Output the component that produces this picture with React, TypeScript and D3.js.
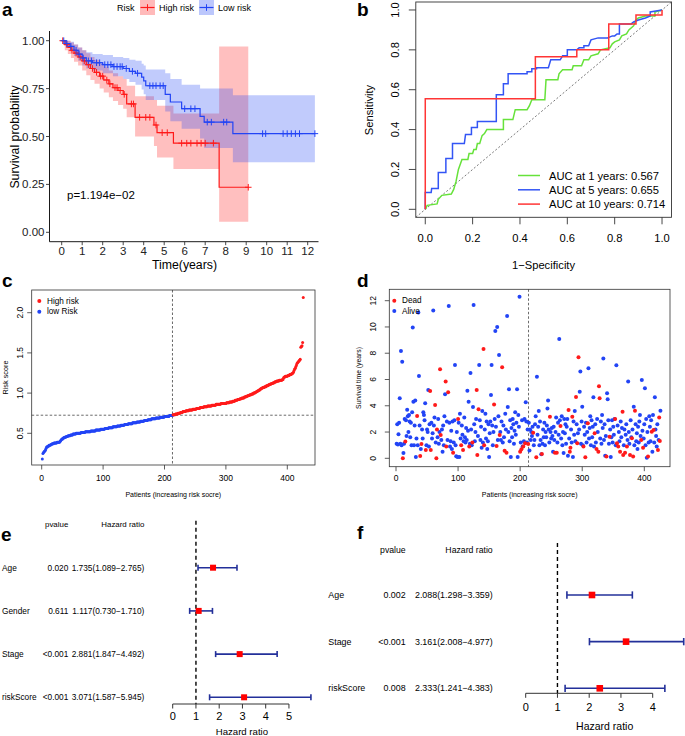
import React from "react";
import * as d3 from "d3";

const FONT = "'Liberation Sans', Arial, Helvetica, sans-serif";

// ---------------- Panel a: Kaplan-Meier ----------------
const kmTicksX = [0, 1, 2, 3, 4, 5, 6, 7, 8, 9, 10, 11, 12];
const kmTicksY = [0, 0.25, 0.5, 0.75, 1];
const kmTickLabelsY = ["0.00", "0.25", "0.50", "0.75", "1.00"];
// [time, survival, lower CI, upper CI]
const kmHigh: number[][] = [
  [0, 1, 1, 1], [0.15, 0.98, 0.95, 1.0], [0.3, 0.965, 0.93, 1.0], [0.45, 0.95, 0.91, 0.99],
  [0.6, 0.935, 0.89, 0.98], [0.8, 0.915, 0.87, 0.965], [1.0, 0.895, 0.845, 0.95],
  [1.2, 0.875, 0.82, 0.935], [1.4, 0.855, 0.795, 0.915], [1.6, 0.835, 0.775, 0.9],
  [1.85, 0.815, 0.75, 0.88], [2.05, 0.795, 0.73, 0.865], [2.3, 0.775, 0.705, 0.845],
  [2.5, 0.755, 0.685, 0.83], [2.75, 0.74, 0.665, 0.815], [3.0, 0.72, 0.645, 0.8],
  [3.17, 0.67, 0.6, 0.765], [3.58, 0.6, 0.5, 0.71], [4.5, 0.56, 0.45, 0.69],
  [4.65, 0.52, 0.39, 0.66], [5.45, 0.465, 0.33, 0.62], [7.68, 0.235, 0.055, 0.97],
];
const kmHighEnd = 9.1;
const kmLow: number[][] = [
  [0, 1, 1, 1], [0.2, 0.985, 0.965, 1], [0.4, 0.97, 0.945, 0.995], [0.6, 0.95, 0.92, 0.98],
  [0.8, 0.93, 0.895, 0.965], [1.0, 0.91, 0.87, 0.95], [1.2, 0.895, 0.855, 0.94],
  [1.5, 0.885, 0.845, 0.93], [2.0, 0.875, 0.83, 0.925], [2.5, 0.865, 0.815, 0.915],
  [3.0, 0.855, 0.8, 0.91], [3.3, 0.84, 0.785, 0.9], [3.6, 0.83, 0.77, 0.895],
  [3.9, 0.81, 0.745, 0.88], [4.0, 0.79, 0.72, 0.87], [4.1, 0.765, 0.69, 0.85],
  [5.05, 0.72, 0.63, 0.83], [5.3, 0.68, 0.58, 0.8], [5.85, 0.645, 0.54, 0.77],
  [6.75, 0.605, 0.49, 0.75], [6.95, 0.575, 0.44, 0.75], [8.35, 0.515, 0.365, 0.715],
];
const kmLowEnd = 12.35;
const censorHigh = [0.05, 0.25, 0.5, 0.7, 0.9, 1.1, 1.3, 1.5, 1.7, 1.9, 2.0, 2.2, 2.35, 2.6, 2.7, 2.85, 3.05, 3.4, 3.5, 3.8, 4.1, 4.3, 4.6, 4.9, 5.15, 5.85, 6.1, 6.3, 6.6, 6.8, 7.0, 7.4, 9.1];
const censorLow = [0.1, 0.25, 0.45, 0.7, 0.85, 1.05, 1.3, 1.45, 1.7, 1.85, 2.1, 2.25, 2.4, 2.55, 2.7, 2.85, 2.95, 3.15, 3.45, 3.7, 4.3, 4.45, 4.6, 4.8, 4.95, 6.0, 6.3, 6.5, 7.1, 7.3, 7.9, 8.05, 9.8, 9.95, 10.8, 11.0, 11.2, 11.4, 11.6, 12.35];
const pValueText = "p=1.194e\u221202";

// ---------------- Panel b: ROC ----------------
const rocTicks = [0, 0.2, 0.4, 0.6, 0.8, 1.0];
const roc1: number[][] = [
  [0, 0], [0.008, 0.02], [0.05, 0.027], [0.055, 0.05], [0.07, 0.07], [0.11, 0.077], [0.12, 0.1],
  [0.13, 0.14], [0.14, 0.2], [0.155, 0.25], [0.18, 0.25], [0.185, 0.28], [0.2, 0.28], [0.205, 0.3],
  [0.215, 0.3], [0.22, 0.33], [0.23, 0.33], [0.24, 0.37], [0.25, 0.38], [0.26, 0.4], [0.33, 0.4],
  [0.33, 0.45], [0.37, 0.45], [0.38, 0.5], [0.43, 0.5], [0.44, 0.52], [0.45, 0.55], [0.505, 0.55],
  [0.51, 0.65], [0.56, 0.65], [0.565, 0.68], [0.58, 0.7], [0.62, 0.7], [0.625, 0.72], [0.66, 0.72],
  [0.67, 0.75], [0.69, 0.75], [0.7, 0.77], [0.73, 0.78], [0.74, 0.8], [0.78, 0.81], [0.79, 0.83],
  [0.8, 0.84], [0.82, 0.85], [0.83, 0.87], [0.85, 0.88], [0.86, 0.9], [0.88, 0.92], [0.89, 0.95],
  [0.9, 0.96], [0.93, 0.97], [0.97, 0.97], [0.97, 0.99], [1, 1],
];
const roc5: number[][] = [
  [0, 0], [0, 0.085], [0.025, 0.085], [0.027, 0.105], [0.055, 0.105], [0.055, 0.185], [0.087, 0.185],
  [0.087, 0.255], [0.115, 0.255], [0.115, 0.33], [0.165, 0.33], [0.17, 0.375], [0.195, 0.375],
  [0.195, 0.41], [0.22, 0.41], [0.22, 0.44], [0.3, 0.44], [0.3, 0.575], [0.33, 0.575], [0.33, 0.63],
  [0.35, 0.63], [0.35, 0.68], [0.43, 0.68], [0.43, 0.69], [0.45, 0.69], [0.45, 0.705], [0.47, 0.705],
  [0.47, 0.71], [0.52, 0.71], [0.53, 0.75], [0.57, 0.75], [0.58, 0.77], [0.6, 0.77], [0.6, 0.8],
  [0.64, 0.8], [0.65, 0.81], [0.67, 0.81], [0.67, 0.82], [0.69, 0.82], [0.7, 0.85], [0.73, 0.86],
  [0.77, 0.86], [0.79, 0.87], [0.8, 0.87], [0.81, 0.88], [0.82, 0.88], [0.82, 0.93], [0.87, 0.93],
  [0.88, 0.94], [0.9, 0.95], [0.93, 0.96], [0.95, 0.97], [0.95, 0.99], [1, 1],
];
const roc10: number[][] = [
  [0, 0], [0, 0.555], [0.465, 0.555], [0.465, 0.765], [0.64, 0.765], [0.64, 0.8], [0.775, 0.8],
  [0.775, 0.93], [0.89, 0.93], [0.89, 0.975], [1, 0.975], [1, 1],
];
const rocLabels = ["AUC at 1 years: 0.567", "AUC at 5 years: 0.655", "AUC at 10 years: 0.714"];
const rocColors = ["#66E23A", "#3355F5", "#FF3535"];

// ---------------- Panel c: risk score ----------------
const riskScores = [
  0.18, 0.25, 0.26, 0.27, 0.28, 0.29, 0.31, 0.33, 0.33, 0.34,
  0.34, 0.35, 0.35, 0.35, 0.36, 0.36, 0.37, 0.37, 0.37, 0.38,
  0.38, 0.38, 0.38, 0.38, 0.39, 0.39, 0.39, 0.39, 0.39, 0.40,
  0.41, 0.42, 0.43, 0.43, 0.44, 0.44, 0.45, 0.45, 0.45, 0.46,
  0.46, 0.46, 0.47, 0.47, 0.47, 0.47, 0.48, 0.48, 0.48, 0.48,
  0.49, 0.49, 0.49, 0.49, 0.49, 0.50, 0.50, 0.50, 0.50, 0.50,
  0.50, 0.50, 0.50, 0.51, 0.51, 0.51, 0.51, 0.51, 0.51, 0.51,
  0.52, 0.52, 0.52, 0.52, 0.52, 0.52, 0.52, 0.52, 0.52, 0.53,
  0.53, 0.53, 0.53, 0.53, 0.53, 0.53, 0.53, 0.54, 0.54, 0.54,
  0.54, 0.54, 0.54, 0.54, 0.54, 0.55, 0.55, 0.55, 0.55, 0.55,
  0.55, 0.55, 0.56, 0.56, 0.56, 0.56, 0.56, 0.56, 0.57, 0.57,
  0.57, 0.57, 0.57, 0.57, 0.57, 0.58, 0.58, 0.58, 0.58, 0.58,
  0.58, 0.58, 0.59, 0.59, 0.59, 0.59, 0.59, 0.59, 0.60, 0.60,
  0.60, 0.60, 0.60, 0.60, 0.61, 0.61, 0.61, 0.61, 0.61, 0.61,
  0.62, 0.62, 0.62, 0.62, 0.62, 0.62, 0.62, 0.63, 0.63, 0.63,
  0.63, 0.63, 0.63, 0.63, 0.64, 0.64, 0.64, 0.64, 0.64, 0.64,
  0.65, 0.65, 0.65, 0.65, 0.65, 0.65, 0.66, 0.66, 0.66, 0.66,
  0.66, 0.66, 0.67, 0.67, 0.67, 0.67, 0.67, 0.67, 0.68, 0.68,
  0.68, 0.68, 0.68, 0.68, 0.68, 0.69, 0.69, 0.69, 0.69, 0.69,
  0.69, 0.69, 0.70, 0.70, 0.70, 0.70, 0.70, 0.70, 0.70, 0.71,
  0.71, 0.71, 0.71, 0.71, 0.71, 0.71, 0.71, 0.72, 0.72, 0.72, 0.72, 0.72, 0.72,
  0.73, 0.73, 0.73, 0.73, 0.74, 0.74, 0.74, 0.74, 0.75, 0.75,
  0.75, 0.75, 0.76, 0.76, 0.76, 0.76, 0.77, 0.77, 0.77, 0.77,
  0.77, 0.78, 0.78, 0.78, 0.78, 0.78, 0.79, 0.79, 0.79, 0.79,
  0.79, 0.79, 0.80, 0.80, 0.80, 0.80, 0.80, 0.80, 0.81, 0.81,
  0.81, 0.81, 0.81, 0.81, 0.82, 0.82, 0.82, 0.82, 0.82, 0.82,
  0.83, 0.83, 0.83, 0.83, 0.83, 0.83, 0.84, 0.84, 0.84, 0.84,
  0.84, 0.84, 0.84, 0.85, 0.85, 0.85, 0.85, 0.85, 0.85, 0.85,
  0.86, 0.86, 0.86, 0.86, 0.86, 0.86, 0.86, 0.86, 0.87, 0.87,
  0.87, 0.87, 0.87, 0.87, 0.87, 0.87, 0.87,
  0.88, 0.88, 0.88, 0.88, 0.88, 0.89, 0.89, 0.89, 0.89, 0.89,
  0.90, 0.90, 0.90, 0.90, 0.91, 0.91, 0.91, 0.91, 0.92, 0.92,
  0.92, 0.92, 0.93, 0.93, 0.93, 0.94, 0.94, 0.94, 0.94, 0.95,
  0.95, 0.95, 0.96, 0.96, 0.96, 0.97, 0.97, 0.97, 0.98, 0.98,
  0.98, 0.99, 0.99, 0.99, 1.00, 1.00, 1.00, 1.01, 1.01, 1.02,
  1.02, 1.03, 1.03, 1.04, 1.04, 1.05, 1.05, 1.06, 1.06, 1.07,
  1.07, 1.07, 1.08, 1.08, 1.08, 1.09, 1.09, 1.09, 1.10, 1.10,
  1.11, 1.11, 1.11, 1.12, 1.12, 1.12, 1.13, 1.13, 1.13, 1.14,
  1.14, 1.14, 1.15, 1.15, 1.15, 1.15, 1.16, 1.16, 1.16, 1.16,
  1.16, 1.17, 1.17, 1.19, 1.20, 1.20, 1.21, 1.21, 1.21, 1.21,
  1.22, 1.22, 1.22, 1.23, 1.23, 1.23, 1.24, 1.24, 1.25, 1.26,
  1.28, 1.30, 1.31, 1.33, 1.35, 1.37, 1.38, 1.39, 1.40, 1.41,
  1.42, 1.57, 1.58, 1.59, 1.63, 2.19,
];
const riskCutPatient = 213;
const riskCutScore = 0.725;
const patientTicks = [0, 100, 200, 300, 400];
const riskTicks = [0.5, 1.0, 1.5, 2.0];
const riskTickLabels = ["0.5", "1.0", "1.5", "2.0"];

// ---------------- Panel d: survival status ----------------
const survYears = [
  1.1, 2.6, 1.05, 1.83, 2.7, 4.57, 1.1, 8.17, 1.0, 7.36,
  0.0, 0.4, 1.1, 3.0, 1.27, 2.9, 1.7, 3.7, 3.2, 2.0,
  3.3, 2.8, 1.6, 2.7, 1.0, 3.5, 9.95, 4.3, 1.0, 2.5,
  4.4, 0.1, 1.5, 3.22, 1.0, 11.1, 6.27, 2.5, 0.18, 0.7,
  1.09, 2.2, 1.5, 3.5, 3.3, 2.9, 4.2, 0.63, 1.0, 2.2,
  2.0, 5.2, 0.9, 2.6, 5.13, 0.63, 2.7, 1.5, 1.9, 11.25,
  2.5, 3.1, 4.06, 1.2, 0.0, 2.2, 1.6, 3.0, 1.1, 2.0,
  6.78, 1.78, 1.4, 2.2, 0.5, 2.5, 1.0, 3.2, 4.87, 5.84,
  0.9, 2.8, 1.4, 5.03, 11.6, 2.7, 0.9, 1.3, 2.1, 0.7,
  2.8, 0.43, 1.2, 2.9, 7.1, 1.0, 0.15, 2.0, 0.1, 3.0,
  2.7, 0.1, 3.4, 1.5, 1.0, 2.5, 1.8, 0.63, 1.3, 3.1,
  1.6, 1.2, 2.3, 1.4, 5.15, 2.1, 4.3, 0.9, 1.1, 6.5,
  2.2, 1.0, 1.2, 3.9, 11.68, 2.6, 1.3, 2.0, 3.0, 5.2,
  0.25, 1.7, 3.73, 7.1, 2.9, 1.4, 2.4, 0.8, 3.6, 1.2,
  8.33, 1.0, 2.2, 3.4, 1.5, 2.8, 0.7, 1.3, 2.6, 0.1,
  1.9, 2.8, 4.82, 7.1, 2.5, 1.0, 2.0, 4.1, 3.0, 9.7,
  2.4, 0.94, 10.0, 1.4, 3.2, 7.87, 1.78, 2.0, 1.4, 2.8,
  6.93, 1.2, 2.5, 1.6, 0.58, 3.4, 2.2, 0.43, 10.84, 3.9,
  2.0, 5.25, 1.3, 2.9, 0.1, 2.3, 1.6, 3.0, 2.6, 1.1,
  2.1, 3.5, 1.8, 2.7, 5.25, 0.1, 3.3, 2.4, 12.3, 0.5,
  1.2, 0.69, 2.9, 0.9, 0.89, 1.3, 3.0, 1.14, 4.26, 2.8,
  1.2, 2.2, 1.09, 2.7, 0.6, 2.2, 1.4, 2.0, 1.7, 2.4,
  1.95, 1.0, 1.4, 2.6, 3.2, 0.08, 6.2, 1.8, 2.4, 3.6,
  1.0, 2.8, 1.4, 0.3, 0.33, 1.1, 2.2, 1.6, 2.7, 1.0,
  2.0, 1.6, 2.5, 3.8, 4.4, 2.2, 1.2, 3.17, 2.0, 1.5,
  2.3, 1.7, 0.5, 2.4, 1.4, 0.43, 2.0, 3.1, 0.43, 1.2,
  2.7, 1.8, 9.08, 2.9, 2.46, 1.5, 3.2, 1.0, 2.0, 0.4,
  3.0, 1.9, 2.6, 1.1, 2.4, 3.0, 0.2, 3.68, 1.5, 0.5,
  0.81, 2.2, 1.2, 3.17, 0.1, 2.8, 1.8, 3.6, 1.3, 4.67,
  2.6, 1.14, 1.9, 7.7, 2.2, 5.07, 6.6, 1.1, 2.8, 3.93,
  1.0, 0.89, 2.4, 1.8, 0.08, 2.7, 1.2, 2.0, 2.67, 6.85,
  1.5, 2.3, 3.2, 1.0, 2.9, 1.6, 2.4, 4.64, 0.9, 1.9,
  2.6, 1.2, 0.71, 3.0, 2.0, 0.5, 5.48, 4.57, 1.5, 2.8,
  1.1, 3.3, 2.3, 7.6, 1.4, 2.6, 0.2, 1.7, 0.13, 4.95,
  4.5, 2.9, 1.1, 1.65, 2.2, 0.1, 1.6, 2.9, 1.2, 2.4,
  1.8, 3.0, 3.0, 1.0, 7.08, 1.14, 2.5, 0.89, 2.0, 1.3,
  0.5, 2.8, 1.6, 2.3, 3.55, 0.25, 1.0, 2.2, 0.43, 1.8,
  2.6, 0.89, 1.4, 5.84, 2.0, 1.1, 0.25, 2.9, 1.6, 1.52,
  2.2, 0.13, 3.93, 1.0, 3.63, 2.6, 1.3, 1.9, 0.7, 2.4,
  1.2, 2.8, 3.3, 1.7, 1.4, 5.96, 2.1, 0.81, 1.5, 2.6,
  5.33, 1.0, 3.0, 0.05, 2.0, 0.13, 1.2, 3.2, 2.4, 1.3,
  2.9, 2.03, 0.5, 3.3, 2.16, 1.2, 4.64, 2.2, 1.7, 0.9,
  2.6, 0.63, 1.4, 3.1, 1.32, 3.63,
];
const deadPatients = [11, 15, 34, 39, 41, 48, 55, 56, 63, 65, 66, 71, 72, 80, 81, 84, 92, 100, 105, 108, 118, 123, 130, 131, 133, 141, 142, 158, 162, 167, 171, 175, 178, 200, 202, 205, 208, 213, 221, 226, 235, 248, 256, 259, 265, 278, 280, 281, 284, 290, 292, 294, 302, 305, 309, 320, 323, 326, 327, 328, 339, 344, 353, 356, 358, 361, 365, 366, 369, 372, 377, 380, 382, 385, 395, 398, 406, 412, 415, 422, 424, 425];
const yearTicks = [0, 2, 4, 6, 8, 10, 12];

// ---------------- Panels e, f: forest plots ----------------
const eNames = ["Age", "Gender", "Stage", "riskScore"];
const ePvals = ["0.020", "0.611", "<0.001", "<0.001"];
const eHR = [1.735, 1.117, 2.881, 3.071];
const eLow = [1.089, 0.73, 1.847, 1.587];
const eHigh = [2.765, 1.71, 4.492, 5.945];
const eTicks = [0, 1, 2, 3, 4, 5];

const fNames = ["Age", "Stage", "riskScore"];
const fPvals = ["0.002", "<0.001", "0.008"];
const fHR = [2.088, 3.161, 2.333];
const fLow = [1.298, 2.008, 1.241];
const fHigh = [3.359, 4.977, 4.383];
const fTicks = [0, 1, 2, 3, 4];

const RED = "#FF1A1A";
const BLUE = "#2244F5";
const NAVY = "#23309A";

function PanelLetter({ x, y, t }: { x: number; y: number; t: string }) {
  return (
    <text x={x} y={y} fontSize={19} fontWeight="bold" fill="#000">{t}</text>
  );
}

function plus(cx: number, cy: number, s = 3.3) {
  return `M${cx - s},${cy}H${cx + s}M${cx},${cy - s}V${cy + s}`;
}

function stepAt(steps: number[][], t: number) {
  let v = steps[0][1];
  for (const s of steps) if (s[0] <= t) v = s[1];
  return v;
}

function PanelA() {
  const x = d3.scaleLinear().domain([0, 12]).range([61.7, 307.7]);
  const y = d3.scaleLinear().domain([0, 1]).range([232.3, 40.7]);
  const ext = (s: number[][], end: number) => [...s, [end, ...s[s.length - 1].slice(1)]];
  const line = d3.line<number[]>().curve(d3.curveStepAfter).x((d) => x(d[0])).y((d) => y(d[1]));
  const area = d3.area<number[]>().curve(d3.curveStepAfter).x((d) => x(d[0])).y0((d) => y(d[2])).y1((d) => y(d[3]));
  const hi = ext(kmHigh, kmHighEnd);
  const lo = ext(kmLow, kmLowEnd);
  const axX = 49.5, axY = 241.7;
  return (
    <g>
      <PanelLetter x={2} y={16} t="a" />
      {/* legend */}
      <g fontSize={9} fill="#000">
        <text x={117} y={7.5} dominantBaseline="central">Risk</text>
        <rect x={140} y={0} width={15} height={15} fill={RED} fillOpacity={0.3} />
        <line x1={140.5} x2={154.5} y1={7.5} y2={7.5} stroke={RED} strokeWidth={1.2} />
        <path d={plus(147.5, 7.5)} stroke={RED} strokeWidth={1} />
        <text x={159} y={7.5} dominantBaseline="central">High risk</text>
        <rect x={199} y={0} width={15} height={15} fill={BLUE} fillOpacity={0.3} />
        <line x1={199.5} x2={213.5} y1={7.5} y2={7.5} stroke={BLUE} strokeWidth={1.2} />
        <path d={plus(206.5, 7.5)} stroke={BLUE} strokeWidth={1} />
        <text x={218} y={7.5} dominantBaseline="central">Low risk</text>
      </g>
      <path d={area(hi) || ""} fill={RED} fillOpacity={0.28} />
      <path d={area(lo) || ""} fill={BLUE} fillOpacity={0.28} />
      <path d={line(hi) || ""} fill="none" stroke={RED} strokeWidth={1.2} />
      <path d={line(lo) || ""} fill="none" stroke={BLUE} strokeWidth={1.2} />
      {censorHigh.map((t, i) => (
        <path key={"ch" + i} d={plus(x(t), y(stepAt(kmHigh, t)))} stroke={RED} strokeWidth={1} />
      ))}
      {censorLow.map((t, i) => (
        <path key={"cl" + i} d={plus(x(t), y(stepAt(kmLow, t)))} stroke={BLUE} strokeWidth={1} />
      ))}
      {/* axes */}
      <line x1={axX} x2={axX} y1={31} y2={axY} stroke="#000" strokeWidth={0.9} />
      <line x1={axX} x2={318.5} y1={axY} y2={axY} stroke="#000" strokeWidth={0.9} />
      {kmTicksY.map((v, i) => (
        <g key={"ty" + i}>
          <line x1={axX - 3.5} x2={axX} y1={y(v)} y2={y(v)} stroke="#333" strokeWidth={0.9} />
          <text x={44.5} y={y(v)} textAnchor="end" dominantBaseline="central" fontSize={11.5} fill="#222">{kmTickLabelsY[i]}</text>
        </g>
      ))}
      {kmTicksX.map((v) => (
        <g key={"tx" + v}>
          <line x1={x(v)} x2={x(v)} y1={axY} y2={axY + 3.5} stroke="#333" strokeWidth={0.9} />
          <text x={x(v)} y={251} textAnchor="middle" dominantBaseline="central" fontSize={11.5} fill="#222">{v}</text>
        </g>
      ))}
      <text x={184.5} y={265} textAnchor="middle" dominantBaseline="central" fontSize={12.3}>Time(years)</text>
      <text transform={`translate(15,137) rotate(-90)`} textAnchor="middle" dominantBaseline="central" fontSize={12.3}>Survival probability</text>
      <text x={67} y={195} dominantBaseline="central" fontSize={11.5}>{pValueText}</text>
    </g>
  );
}

function PanelB() {
  const x = d3.scaleLinear().domain([-0.04, 1.04]).range([415.8, 671.5]);
  const y = d3.scaleLinear().domain([-0.04, 1.04]).range([217.3, 2]);
  const line = d3.line<number[]>().x((d) => x(d[0])).y((d) => y(d[1]));
  const curves = [roc1, roc5, roc10];
  const legendY = [175.5, 189.8, 204.1];
  return (
    <g>
      <PanelLetter x={357} y={16} t="b" />
      <line x1={x(-0.04)} y1={y(-0.04)} x2={x(1.04)} y2={y(1.04)} stroke="#555" strokeWidth={0.8} strokeDasharray="2,2" />
      {curves.map((c, i) => (
        <path key={i} d={line(c) || ""} fill="none" stroke={rocColors[i]} strokeWidth={1.5} />
      ))}
      <rect x={x(-0.04)} y={y(1.04)} width={x(1.04) - x(-0.04)} height={y(-0.04) - y(1.04)} fill="none" stroke="#333" strokeWidth={0.9} />
      {rocTicks.map((v) => (
        <g key={"b" + v}>
          <line x1={x(v)} x2={x(v)} y1={y(-0.04)} y2={y(-0.04) + 7} stroke="#333" strokeWidth={0.9} />
          <text x={x(v)} y={238.3} textAnchor="middle" dominantBaseline="central" fontSize={11.2}>{v.toFixed(1)}</text>
          <line x1={x(-0.04) - 7} x2={x(-0.04)} y1={y(v)} y2={y(v)} stroke="#333" strokeWidth={0.9} />
          <text transform={`translate(395,${y(v)}) rotate(-90)`} textAnchor="middle" dominantBaseline="central" fontSize={11.2}>{v.toFixed(1)}</text>
        </g>
      ))}
      <text x={543.5} y={265} textAnchor="middle" dominantBaseline="central" fontSize={11.2}>1{"\u2212"}Specificity</text>
      <text transform={`translate(369,110) rotate(-90)`} textAnchor="middle" dominantBaseline="central" fontSize={11.2}>Sensitivity</text>
      {rocLabels.map((l, i) => (
        <g key={"l" + i}>
          <line x1={518} x2={540} y1={legendY[i]} y2={legendY[i]} stroke={rocColors[i]} strokeWidth={1.5} />
          <text x={549} y={legendY[i]} dominantBaseline="central" fontSize={11.2}>{l}</text>
        </g>
      ))}
    </g>
  );
}

function PanelC() {
  const x = d3.scaleLinear().domain([0, 400]).range([41.7, 287.3]);
  const y = d3.scaleLinear().domain([0.5, 2.0]).range([433.3, 312.7]);
  const box = { l: 31.7, r: 315, t: 290, b: 465 };
  return (
    <g>
      <PanelLetter x={2} y={287} t="c" />
      <line x1={box.l} x2={box.r} y1={y(riskCutScore)} y2={y(riskCutScore)} stroke="#444" strokeWidth={0.8} strokeDasharray="2.5,2" />
      <line x1={x(riskCutPatient)} x2={x(riskCutPatient)} y1={box.t} y2={box.b} stroke="#444" strokeWidth={0.8} strokeDasharray="2.5,2" />
      {riskScores.map((v, i) => (
        <circle key={i} cx={x(i + 1)} cy={y(v)} r={1.5} fill={i < riskCutPatient ? BLUE : RED} />
      ))}
      <rect x={box.l} y={box.t} width={box.r - box.l} height={box.b - box.t} fill="none" stroke="#333" strokeWidth={0.8} />
      {patientTicks.map((v) => (
        <g key={"cx" + v}>
          <line x1={x(v)} x2={x(v)} y1={box.b} y2={box.b + 4.5} stroke="#333" strokeWidth={0.8} />
          <text x={x(v)} y={478.3} textAnchor="middle" dominantBaseline="central" fontSize={8.5}>{v}</text>
        </g>
      ))}
      {riskTicks.map((v, i) => (
        <g key={"cy" + v}>
          <line x1={box.l - 4.5} x2={box.l} y1={y(v)} y2={y(v)} stroke="#333" strokeWidth={0.8} />
          <text transform={`translate(20,${y(v)}) rotate(-90)`} textAnchor="middle" dominantBaseline="central" fontSize={8.5}>{riskTickLabels[i]}</text>
        </g>
      ))}
      <text x={173.3} y={494} textAnchor="middle" dominantBaseline="central" fontSize={7}>Patients (increasing risk socre)</text>
      <text transform={`translate(5,377.5) rotate(-90)`} textAnchor="middle" dominantBaseline="central" fontSize={7.3}>Risk score</text>
      <circle cx={39.3} cy={301} r={2} fill={RED} />
      <text x={47} y={301} dominantBaseline="central" fontSize={8.2}>High risk</text>
      <circle cx={39.3} cy={311.7} r={2} fill={BLUE} />
      <text x={47} y={311.7} dominantBaseline="central" fontSize={8.2}>low Risk</text>
    </g>
  );
}

function PanelD() {
  const x = d3.scaleLinear().domain([0, 400]).range([396, 644.3]);
  const y = d3.scaleLinear().domain([0, 12]).range([458.3, 300.7]);
  const box = { l: 389.3, r: 670, t: 289.3, b: 466.7 };
  const dead = new Set(deadPatients);
  const pts = survYears.map((t, i) => ({ n: i + 1, t, dead: dead.has(i + 1) }));
  return (
    <g>
      <PanelLetter x={357} y={287} t="d" />
      <line x1={x(riskCutPatient + 0.5)} x2={x(riskCutPatient + 0.5)} y1={box.t} y2={box.b} stroke="#444" strokeWidth={0.8} strokeDasharray="2.5,2" />
      {pts.filter((p) => !p.dead).map((p) => (
        <circle key={"a" + p.n} cx={x(p.n)} cy={y(p.t)} r={2} fill={BLUE} />
      ))}
      {pts.filter((p) => p.dead).map((p) => (
        <circle key={"d" + p.n} cx={x(p.n)} cy={y(p.t)} r={2} fill={RED} />
      ))}
      <rect x={box.l} y={box.t} width={box.r - box.l} height={box.b - box.t} fill="none" stroke="#333" strokeWidth={0.8} />
      {patientTicks.map((v) => (
        <g key={"dx" + v}>
          <line x1={x(v)} x2={x(v)} y1={box.b} y2={box.b + 4.5} stroke="#333" strokeWidth={0.8} />
          <text x={x(v)} y={478.3} textAnchor="middle" dominantBaseline="central" fontSize={8.5}>{v}</text>
        </g>
      ))}
      {yearTicks.map((v) => (
        <g key={"dy" + v}>
          <line x1={box.l - 4.5} x2={box.l} y1={y(v)} y2={y(v)} stroke="#333" strokeWidth={0.8} />
          <text transform={`translate(373.3,${y(v)}) rotate(-90)`} textAnchor="middle" dominantBaseline="central" fontSize={8.5}>{v}</text>
        </g>
      ))}
      <text x={529.7} y={494} textAnchor="middle" dominantBaseline="central" fontSize={7}>Patients (increasing risk socre)</text>
      <text transform={`translate(358.3,378) rotate(-90)`} textAnchor="middle" dominantBaseline="central" fontSize={6.8}>Survival time (years)</text>
      <circle cx={394.3} cy={300.7} r={2} fill={RED} />
      <text x={402} y={300.7} dominantBaseline="central" fontSize={8.2}>Dead</text>
      <circle cx={394.3} cy={311} r={2} fill={BLUE} />
      <text x={402} y={311} dominantBaseline="central" fontSize={8.2}>Alive</text>
    </g>
  );
}

type ForestProps = {
  names: string[]; pvals: string[]; hr: number[]; lo: number[]; hi: number[]; ticks: number[];
  xRange: [number, number]; tickMax: number; rowRange: [number, number];
  labelX: number; pX: number; hrX: number; headerY: number; dashTop: number; axisY: number;
  tickLabelY: number; titleY: number; titleX: number; textSize: number; headerSize: number;
  titleSize: number; sq: number; cap: number; letter: string; letterX: number; letterY: number;
};

function Forest(p: ForestProps) {
  const x = d3.scaleLinear().domain([0, p.tickMax]).range(p.xRange);
  const y = d3.scalePoint<string>().domain(p.names).range(p.rowRange);
  const fmt = (v: number) => v.toFixed(3);
  return (
    <g>
      <PanelLetter x={p.letterX} y={p.letterY} t={p.letter} />
      <text x={p.pX} y={p.headerY} textAnchor="end" dominantBaseline="central" fontSize={p.headerSize}>pvalue</text>
      <text x={p.hrX} y={p.headerY} textAnchor="end" dominantBaseline="central" fontSize={p.headerSize}>Hazard ratio</text>
      <line x1={x(1)} x2={x(1)} y1={p.dashTop} y2={p.axisY} stroke="#000" strokeWidth={1.4} strokeDasharray="4,3" />
      {p.names.map((n, i) => {
        const yy = y(n) as number;
        return (
          <g key={n}>
            <text x={p.labelX} y={yy} dominantBaseline="central" fontSize={p.textSize}>{n}</text>
            <text x={p.pX} y={yy} textAnchor="end" dominantBaseline="central" fontSize={p.textSize}>{p.pvals[i]}</text>
            <text x={p.hrX} y={yy} textAnchor="end" dominantBaseline="central" fontSize={p.textSize}>{`${fmt(p.hr[i])}(${fmt(p.lo[i])}\u2212${fmt(p.hi[i])})`}</text>
            <line x1={x(p.lo[i])} x2={x(p.hi[i])} y1={yy} y2={yy} stroke={NAVY} strokeWidth={1.6} />
            <line x1={x(p.lo[i])} x2={x(p.lo[i])} y1={yy - p.cap / 2} y2={yy + p.cap / 2} stroke={NAVY} strokeWidth={1.6} />
            <line x1={x(p.hi[i])} x2={x(p.hi[i])} y1={yy - p.cap / 2} y2={yy + p.cap / 2} stroke={NAVY} strokeWidth={1.6} />
            <rect x={x(p.hr[i]) - p.sq / 2} y={yy - p.sq / 2} width={p.sq} height={p.sq} fill="#FF0000" />
          </g>
        );
      })}
      <line x1={x(p.ticks[0])} x2={x(p.ticks[p.ticks.length - 1])} y1={p.axisY} y2={p.axisY} stroke="#333" strokeWidth={1} />
      {p.ticks.map((t) => (
        <g key={"t" + t}>
          <line x1={x(t)} x2={x(t)} y1={p.axisY} y2={p.axisY + 4.5} stroke="#333" strokeWidth={1} />
          <text x={x(t)} y={p.tickLabelY} textAnchor="middle" dominantBaseline="central" fontSize={11}>{t}</text>
        </g>
      ))}
      <text x={p.titleX} y={p.titleY} textAnchor="middle" dominantBaseline="central" fontSize={p.titleSize}>Hazard ratio</text>
    </g>
  );
}

export default function App() {
  return (
    <svg width={685} height={736} viewBox="0 0 685 736" style={{ position: "absolute", left: 0, top: 0, background: "#fff" }} fontFamily={FONT}>
      <rect width={685} height={736} fill="#fff" />
      <PanelA />
      <PanelB />
      <PanelC />
      <PanelD />
      <Forest names={eNames} pvals={ePvals} hr={eHR} lo={eLow} hi={eHigh} ticks={eTicks}
        xRange={[172.7, 288.95]} tickMax={5} rowRange={[567.7, 697.3]}
        labelX={2} pX={68.3} hrX={144.3} headerY={524.3} dashTop={520.7} axisY={704}
        tickLabelY={715.5} titleY={731.5} titleX={241.9} textSize={8.3} headerSize={7.9}
        titleSize={9.6} sq={6} cap={6} letter="e" letterX={1} letterY={541} />
      <Forest names={fNames} pvals={fPvals} hr={fHR} lo={fLow} hi={fHigh} ticks={fTicks}
        xRange={[525.7, 652.7]} tickMax={4} rowRange={[595, 688.3]}
        labelX={328.3} pX={405.7} hrX={492.7} headerY={550} dashTop={543} axisY={693.3}
        tickLabelY={706.7} titleY={726} titleX={604.7} textSize={8.9} headerSize={8.7}
        titleSize={10.5} sq={6.6} cap={7.3} letter="f" letterX={357} letterY={539} />
    </svg>
  );
}
